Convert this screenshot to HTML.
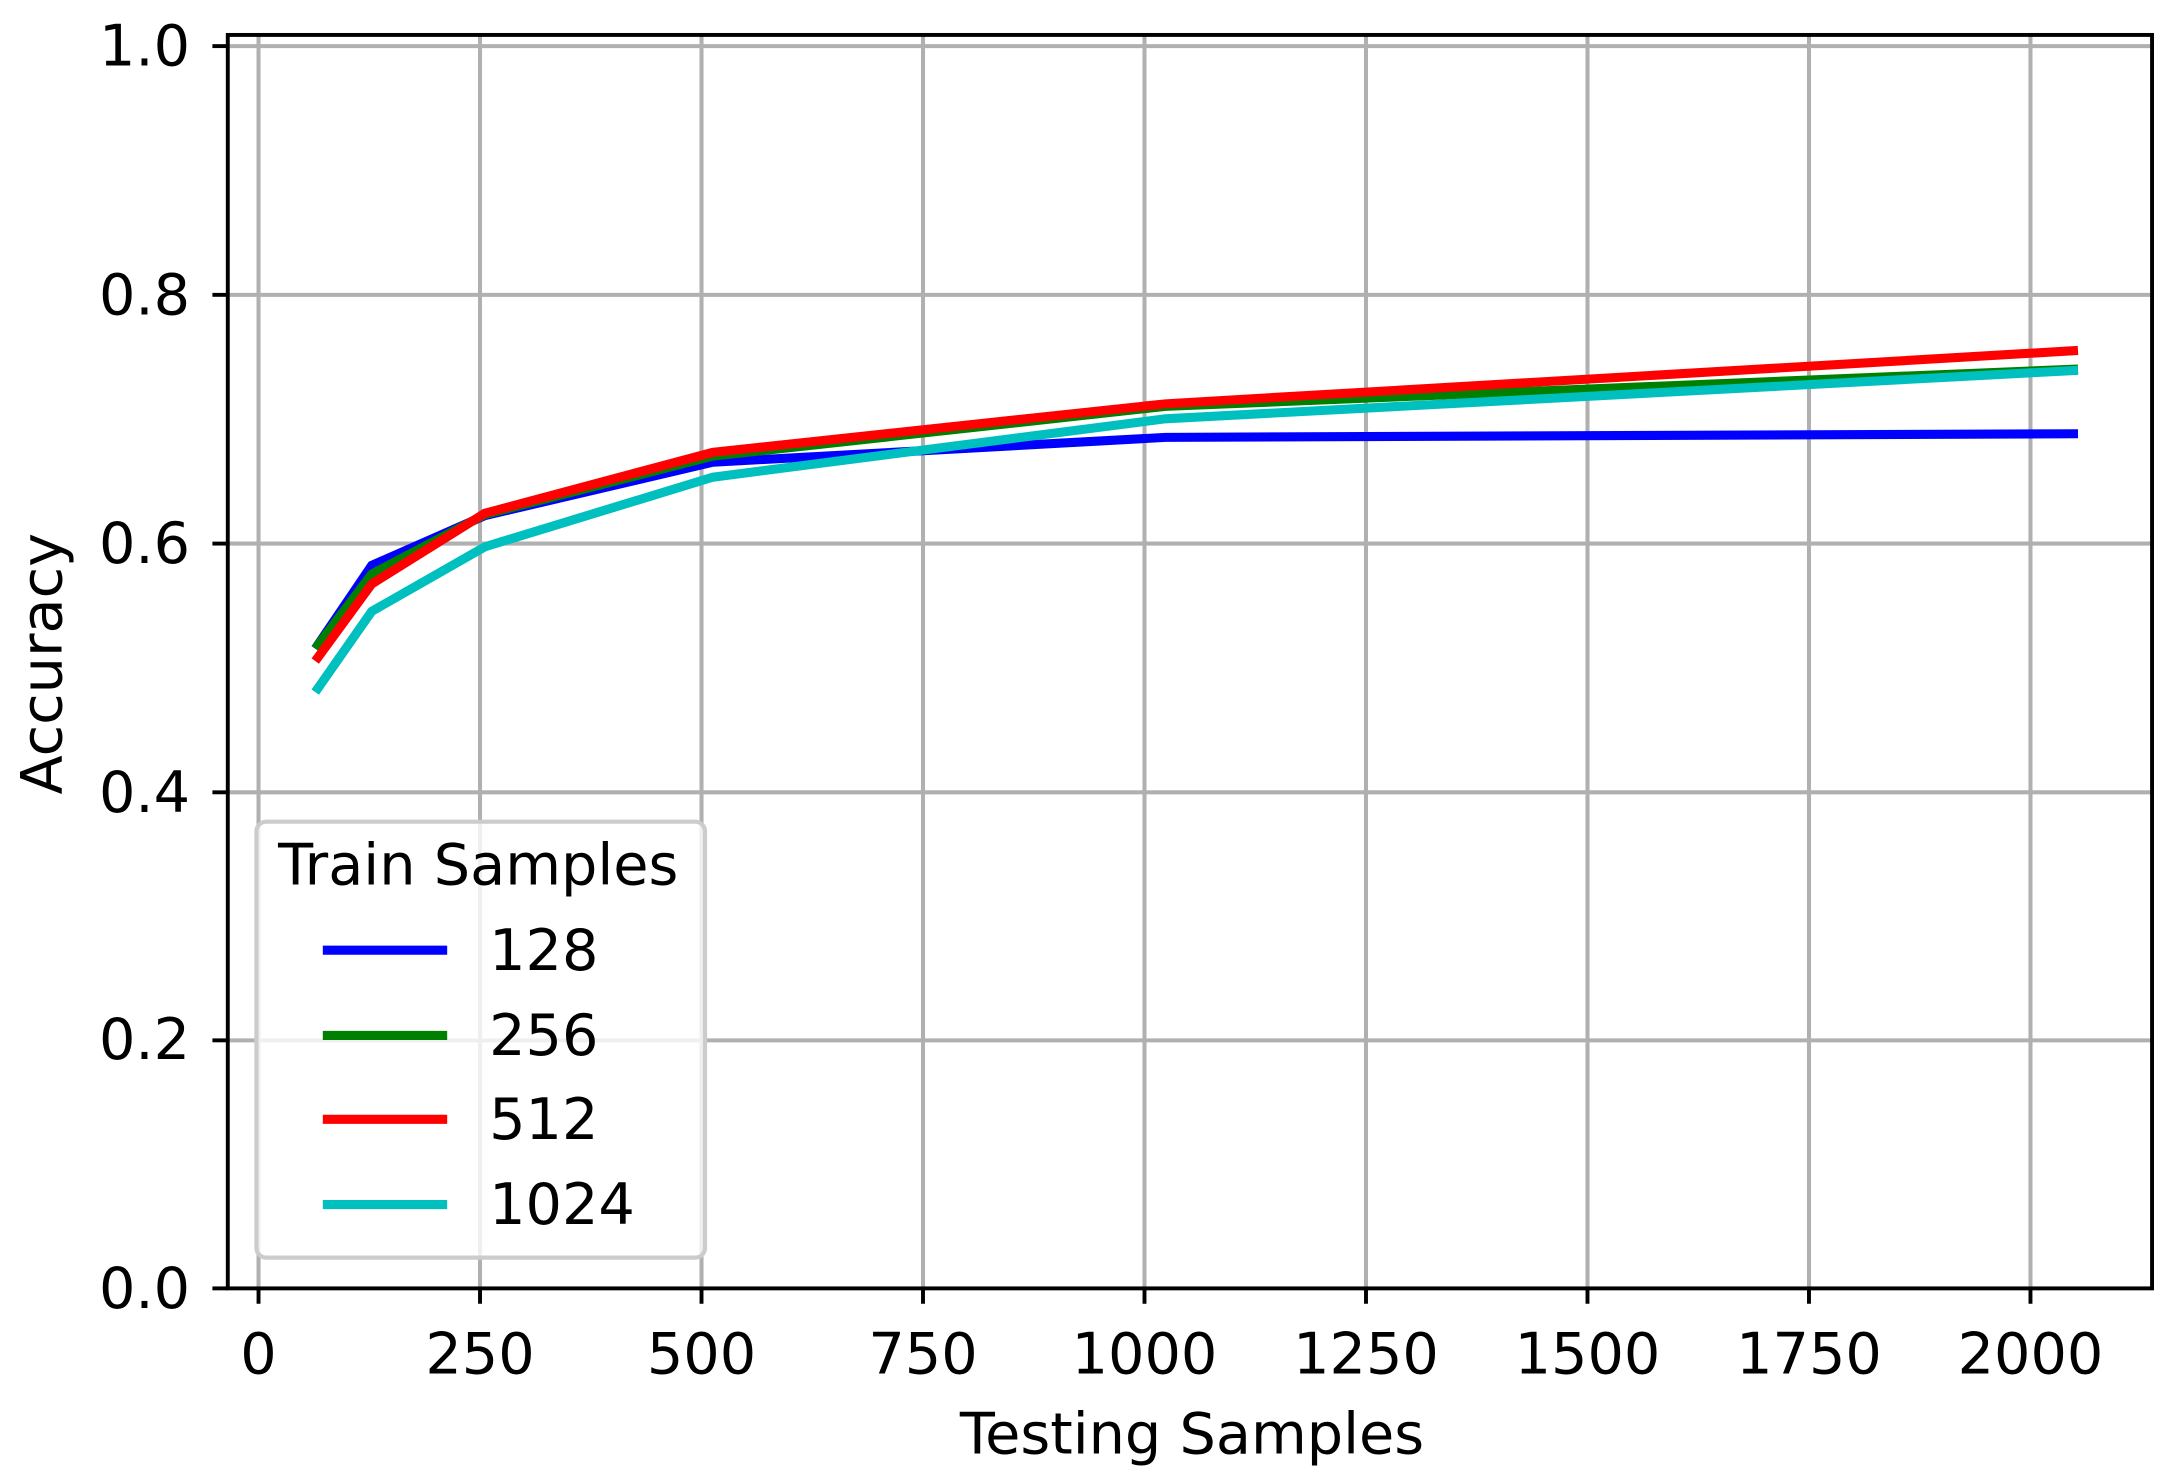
<!DOCTYPE html>
<html><head><meta charset="utf-8"><style>
html,body{margin:0;padding:0;background:#fff;}
svg{display:block;}
text{font-family:"DejaVu Sans","Liberation Sans",sans-serif;fill:#000;}
</style></head><body>
<svg width="2180" height="1472" viewBox="0 0 1560 1053.4" preserveAspectRatio="none" xmlns="http://www.w3.org/2000/svg">
<rect x="0" y="0" width="1560" height="1054" fill="#fff"/>
<g stroke="#b0b0b0" stroke-width="2.9">
<line x1="185" y1="25" x2="185" y2="922"/>
<line x1="343.5" y1="25" x2="343.5" y2="922"/>
<line x1="502" y1="25" x2="502" y2="922"/>
<line x1="660.5" y1="25" x2="660.5" y2="922"/>
<line x1="819" y1="25" x2="819" y2="922"/>
<line x1="977.5" y1="25" x2="977.5" y2="922"/>
<line x1="1136" y1="25" x2="1136" y2="922"/>
<line x1="1294.5" y1="25" x2="1294.5" y2="922"/>
<line x1="1453" y1="25" x2="1453" y2="922"/>
<line x1="163" y1="33" x2="1540" y2="33"/>
<line x1="163" y1="211" x2="1540" y2="211"/>
<line x1="163" y1="389" x2="1540" y2="389"/>
<line x1="163" y1="567" x2="1540" y2="567"/>
<line x1="163" y1="744.5" x2="1540" y2="744.5"/>
</g>
<g fill="none" stroke-width="6.5" stroke-linejoin="miter" stroke-linecap="butt">
<polyline stroke="#0000ff" points="225.6,464.2 266,404.6 347,369 510,330.8 834,313 1487,310.4"/>
<polyline stroke="#008000" points="225.6,464.2 266,410.8 347,368.2 510,326.4 834,290.8 1487,264.1"/>
<polyline stroke="#ff0000" points="225.6,473.1 266,417.9 347,367.3 510,323.7 834,289 1487,250.8"/>
<polyline stroke="#00bfbf" points="225.6,495.3 266,437.5 347,391.3 510,341.5 834,299.7 1487,265"/>
</g>
<rect x="163" y="25" width="1377" height="897" fill="none" stroke="#000" stroke-width="2.8"/>
<g stroke="#000" stroke-width="2.8">
<line x1="152" y1="33" x2="163" y2="33"/>
<line x1="152" y1="211" x2="163" y2="211"/>
<line x1="152" y1="389" x2="163" y2="389"/>
<line x1="152" y1="567" x2="163" y2="567"/>
<line x1="152" y1="744.5" x2="163" y2="744.5"/>
<line x1="152" y1="922" x2="163" y2="922"/>
<line x1="185" y1="922" x2="185" y2="933"/>
<line x1="343.5" y1="922" x2="343.5" y2="933"/>
<line x1="502" y1="922" x2="502" y2="933"/>
<line x1="660.5" y1="922" x2="660.5" y2="933"/>
<line x1="819" y1="922" x2="819" y2="933"/>
<line x1="977.5" y1="922" x2="977.5" y2="933"/>
<line x1="1136" y1="922" x2="1136" y2="933"/>
<line x1="1294.5" y1="922" x2="1294.5" y2="933"/>
<line x1="1453" y1="922" x2="1453" y2="933"/>
</g>
<g font-size="41" text-anchor="end">
<text x="136" y="47">1.0</text>
<text x="136" y="225">0.8</text>
<text x="136" y="403">0.6</text>
<text x="136" y="581">0.4</text>
<text x="136" y="758">0.2</text>
<text x="136" y="936">0.0</text>
</g>
<g font-size="41" text-anchor="middle">
<text x="185" y="983">0</text>
<text x="343.5" y="983">250</text>
<text x="502" y="983">500</text>
<text x="660.5" y="983">750</text>
<text x="819" y="983">1000</text>
<text x="977.5" y="983">1250</text>
<text x="1136" y="983">1500</text>
<text x="1294.5" y="983">1750</text>
<text x="1453" y="983">2000</text>
<text x="853" y="1040">Testing Samples</text>
<text transform="translate(44,475) rotate(-90)">Accuracy</text>
</g>
<rect x="183.5" y="588" width="321" height="312" rx="7" fill="#fff" fill-opacity="0.8" stroke="#cccccc" stroke-width="3"/>
<text x="199" y="633" font-size="41">Train Samples</text>
<g stroke-width="6.5">
<line x1="231" y1="680" x2="320" y2="680" stroke="#0000ff"/>
<line x1="231" y1="741" x2="320" y2="741" stroke="#008000"/>
<line x1="231" y1="801" x2="320" y2="801" stroke="#ff0000"/>
<line x1="231" y1="862" x2="320" y2="862" stroke="#00bfbf"/>
</g>
<g font-size="41">
<text x="350" y="694">128</text>
<text x="350" y="755">256</text>
<text x="350" y="815">512</text>
<text x="350" y="876">1024</text>
</g>
</svg>
</body></html>
